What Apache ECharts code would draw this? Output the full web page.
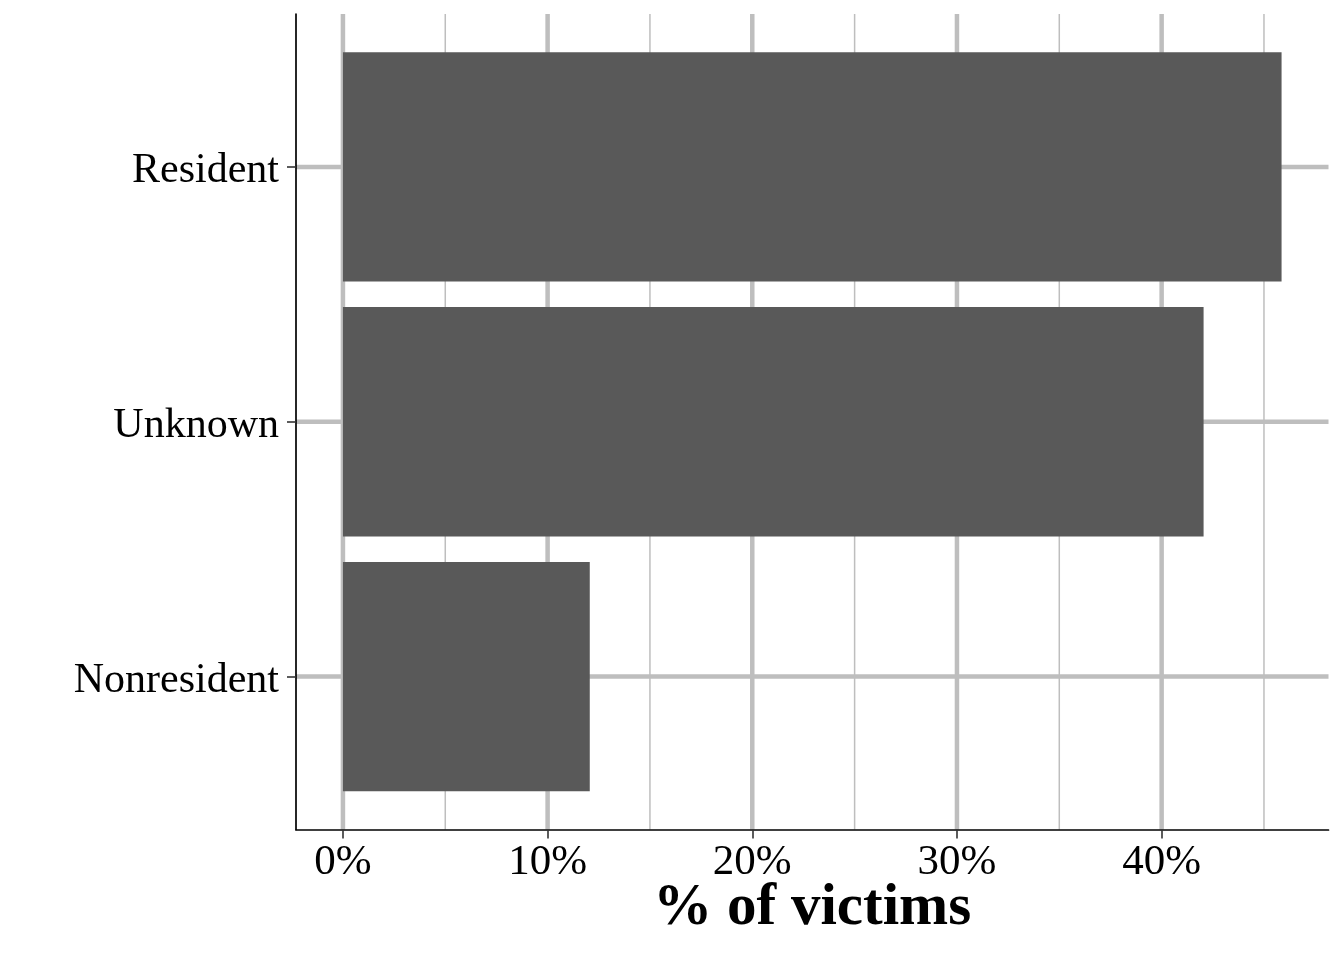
<!DOCTYPE html>
<html>
<head>
<meta charset="utf-8">
<script src="https://cdn.jsdelivr.net/npm/echarts@6/dist/echarts.min.js"></script>
<style>
html,body{margin:0;padding:0;background:#fff;}
#chart{width:1344px;height:960px;}
</style>
</head>
<body>
<div id="chart"></div>
<script>
// categories listed bottom to top
const categories = ['Nonresident', 'Unknown', 'Resident'];
const percents = [12.06, 42.05, 45.86];
const majorTicks = [0, 10, 20, 30, 40];
const minorTicks = [5, 15, 25, 35, 45];
const tickLabels = ['0%', '10%', '20%', '30%', '40%'];
const xTitle = '% of victims';

const catPos = categories.map((c, i) => i + 1);
const xMin = -2.293, xMax = 48.153;
const FONT = '"Liberation Serif", "Times New Roman", serif';
const GRID = '#bebebe';

const chart = echarts.init(document.getElementById('chart'), null, {renderer: 'canvas'});

function vLine(width) {
  return function (params, api) {
    const cs = params.coordSys;
    const x = api.coord([api.value(0), 1])[0];
    return {
      type: 'line',
      shape: {x1: x, y1: cs.y, x2: x, y2: cs.y + cs.height},
      style: {stroke: GRID, lineWidth: width},
      silent: true
    };
  };
}

const option = {
  animation: false,
  backgroundColor: '#ffffff',
  grid: {left: 296, right: 15.5, top: 14, bottom: 130.5, containLabel: false},
  xAxis: {
    type: 'value',
    min: xMin,
    max: xMax,
    z: 10,
    name: xTitle,
    nameLocation: 'middle',
    nameGap: 50,
    nameMoveOverlap: false,
    nameTextStyle: {fontFamily: FONT, fontSize: 59, fontWeight: 'bold', color: '#000'},
    axisLine: {show: true, onZero: false, lineStyle: {color: '#000', width: 1.7}},
    axisTick: {show: true, customValues: majorTicks, length: 9, lineStyle: {color: '#333', width: 1.6}},
    axisLabel: {
      show: true,
      customValues: majorTicks,
      formatter: function (v) { return tickLabels[majorTicks.indexOf(Math.round(v))]; },
      fontFamily: FONT, fontSize: 43, color: '#000', margin: 12
    },
    splitLine: {show: false},
    minorSplitLine: {show: false}
  },
  yAxis: {
    type: 'value',
    min: 0.4,
    max: categories.length + 0.6,
    z: 10,
    axisLine: {show: true, onZero: false, lineStyle: {color: '#000', width: 1.7}},
    axisTick: {show: true, customValues: catPos, length: 9, lineStyle: {color: '#333', width: 1.6}},
    axisLabel: {
      show: true,
      customValues: catPos,
      formatter: function (v) { return '{c|' + categories[Math.round(v) - 1] + '}'; },
      margin: 17,
      rich: {
        c: {fontFamily: FONT, fontSize: 42, color: '#000', padding: [8, 0, 0, 0]}
      }
    },
    splitLine: {show: false}
  },
  series: [
    {
      type: 'custom', name: 'minor', z: 1, silent: true,
      data: minorTicks.map(v => [v]),
      encode: {x: 0},
      renderItem: vLine(1.5)
    },
    {
      type: 'custom', name: 'major', z: 1, silent: true,
      data: majorTicks.map(v => [v]),
      encode: {x: 0},
      renderItem: vLine(4.5)
    },
    {
      type: 'custom', name: 'hgrid', z: 1, silent: true,
      data: catPos.map(v => [0, v]),
      encode: {x: 0, y: 1},
      renderItem: function (params, api) {
        const cs = params.coordSys;
        const y = api.coord([0, api.value(1)])[1];
        return {
          type: 'line',
          shape: {x1: cs.x, y1: y, x2: cs.x + cs.width, y2: y},
          style: {stroke: GRID, lineWidth: 4.5},
          silent: true
        };
      }
    },
    {
      type: 'custom', name: 'bars', z: 3,
      data: percents.map((v, i) => [v, catPos[i]]),
      encode: {x: 0, y: 1},
      renderItem: function (params, api) {
        const end = api.coord([api.value(0), api.value(1)]);
        const start = api.coord([0, api.value(1)]);
        const h = api.size([0, 0.9])[1];
        return {
          type: 'rect',
          shape: {x: start[0], y: end[1] - h / 2, width: end[0] - start[0], height: h},
          style: {fill: '#595959'}
        };
      }
    }
  ]
};
chart.setOption(option);
</script>
</body>
</html>
